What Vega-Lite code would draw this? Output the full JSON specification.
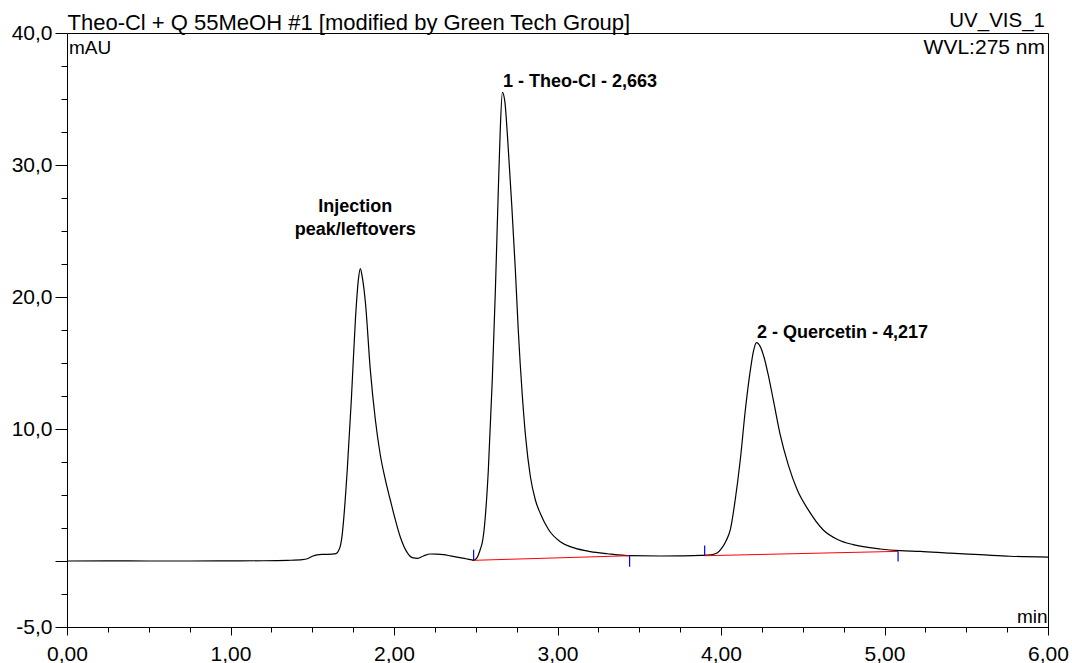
{
  "$schema": "https://vega.github.io/schema/vega-lite/v6.json",
  "width": 981,
  "height": 594,
  "autosize": {"type": "none"},
  "padding": {"left": 67, "top": 33, "right": 24, "bottom": 36},
  "background": "white",
  "config": {
    "view": {"stroke": "black", "strokeWidth": 1},
    "font": "Liberation Sans",
    "axis": {
      "labelFont": "Liberation Sans",
      "titleFont": "Liberation Sans",
      "labelColor": "black",
      "titleColor": "black",
      "tickColor": "black",
      "domainColor": "black",
      "domainWidth": 1,
      "tickWidth": 1,
      "grid": false,
      "titleFontWeight": "normal",
      "labelOverlap": false,
      "labelFlush": false,
      "labelBound": false
    }
  },
  "title": {
    "text": "UV_VIS_1",
    "anchor": "end",
    "frame": "group",
    "orient": "top",
    "offset": 4,
    "dx": -3,
    "dy": 24,
    "fontSize": 20.5,
    "fontWeight": "normal",
    "font": "Liberation Sans",
    "color": "black"
  },
  "datasets": {
    "curve": [
      {"t": 0.00, "v": 0.00}, {"t": 0.25, "v": 0.01}, {"t": 0.50, "v": 0.00}, {"t": 0.75, "v": 0.00},
      {"t": 1.00, "v": 0.01}, {"t": 1.20, "v": 0.02}, {"t": 1.35, "v": 0.05}, {"t": 1.44, "v": 0.10},
      {"t": 1.47, "v": 0.17}, {"t": 1.50, "v": 0.36}, {"t": 1.53, "v": 0.47}, {"t": 1.57, "v": 0.50},
      {"t": 1.62, "v": 0.52}, {"t": 1.645, "v": 0.56}, {"t": 1.66, "v": 0.75}, {"t": 1.673, "v": 1.2},
      {"t": 1.682, "v": 1.86}, {"t": 1.692, "v": 3.13}, {"t": 1.714, "v": 6.9}, {"t": 1.739, "v": 12.2},
      {"t": 1.764, "v": 18.3}, {"t": 1.782, "v": 21.3}, {"t": 1.794, "v": 22.15}, {"t": 1.806, "v": 21.5},
      {"t": 1.825, "v": 19.6}, {"t": 1.855, "v": 14.5}, {"t": 1.886, "v": 10.7}, {"t": 1.916, "v": 8.05},
      {"t": 1.947, "v": 6.16}, {"t": 1.977, "v": 4.64}, {"t": 2.008, "v": 3.13}, {"t": 2.038, "v": 1.84},
      {"t": 2.081, "v": 0.63}, {"t": 2.112, "v": 0.25}, {"t": 2.145, "v": 0.20}, {"t": 2.18, "v": 0.38},
      {"t": 2.222, "v": 0.53}, {"t": 2.26, "v": 0.52}, {"t": 2.303, "v": 0.48}, {"t": 2.345, "v": 0.39},
      {"t": 2.385, "v": 0.30}, {"t": 2.44, "v": 0.17}, {"t": 2.477, "v": 0.08}, {"t": 2.487, "v": 0.05},
      {"t": 2.507, "v": 0.23}, {"t": 2.527, "v": 0.85}, {"t": 2.543, "v": 1.6}, {"t": 2.551, "v": 2.37},
      {"t": 2.577, "v": 6.9}, {"t": 2.601, "v": 13.7}, {"t": 2.620, "v": 20.5}, {"t": 2.638, "v": 28.1},
      {"t": 2.650, "v": 32.7}, {"t": 2.663, "v": 35.5}, {"t": 2.678, "v": 34.8}, {"t": 2.695, "v": 32.0},
      {"t": 2.72, "v": 27.0}, {"t": 2.742, "v": 22.1}, {"t": 2.76, "v": 17.5}, {"t": 2.785, "v": 12.5},
      {"t": 2.805, "v": 9.4}, {"t": 2.834, "v": 6.4}, {"t": 2.865, "v": 4.6}, {"t": 2.895, "v": 3.6},
      {"t": 2.946, "v": 2.37}, {"t": 3.017, "v": 1.46}, {"t": 3.097, "v": 1.01}, {"t": 3.201, "v": 0.71},
      {"t": 3.305, "v": 0.55}, {"t": 3.446, "v": 0.40}, {"t": 3.63, "v": 0.38}, {"t": 3.75, "v": 0.39},
      {"t": 3.873, "v": 0.42}, {"t": 3.94, "v": 0.47}, {"t": 3.976, "v": 0.6}, {"t": 4.00, "v": 0.9},
      {"t": 4.03, "v": 1.5}, {"t": 4.057, "v": 2.37}, {"t": 4.087, "v": 4.64}, {"t": 4.118, "v": 7.67},
      {"t": 4.149, "v": 11.46}, {"t": 4.18, "v": 14.5}, {"t": 4.198, "v": 15.86}, {"t": 4.217, "v": 16.54},
      {"t": 4.24, "v": 16.24}, {"t": 4.264, "v": 15.4}, {"t": 4.289, "v": 14.1}, {"t": 4.32, "v": 12.2},
      {"t": 4.362, "v": 9.57}, {"t": 4.411, "v": 7.3}, {"t": 4.466, "v": 5.4}, {"t": 4.533, "v": 3.89},
      {"t": 4.624, "v": 2.37}, {"t": 4.716, "v": 1.61}, {"t": 4.808, "v": 1.24}, {"t": 4.974, "v": 0.91},
      {"t": 5.096, "v": 0.78}, {"t": 5.218, "v": 0.73}, {"t": 5.402, "v": 0.59}, {"t": 5.585, "v": 0.48},
      {"t": 5.768, "v": 0.36}, {"t": 6.0, "v": 0.29}
    ],
    "baselines": [
      {"peak": 1, "t1": 2.487, "v1": 0.05, "t2": 3.441, "v2": 0.40},
      {"peak": 2, "t1": 3.900, "v1": 0.40, "t2": 5.083, "v2": 0.73}
    ],
    "delimiters": [
      {"t": 2.487, "v0": 0.05, "v1": 0.86},
      {"t": 3.441, "v0": 0.40, "v1": -0.43},
      {"t": 3.900, "v0": 0.40, "v1": 1.18},
      {"t": 5.083, "v0": 0.73, "v1": -0.03}
    ],
    "peaks": [
      {"label": "1 - Theo-Cl - 2,663", "t": 2.663, "v": 35.5},
      {"label": "2 - Quercetin - 4,217", "t": 4.217, "v": 16.54}
    ],
    "notes": [
      {"label": ["Injection", "peak/leftovers"], "t": 1.794, "v": 22.15}
    ]
  },
  "layer": [
    {
      "data": {"name": "curve"},
      "mark": {"type": "line", "color": "black", "strokeWidth": 1.2, "interpolate": "monotone", "clip": true},
      "encoding": {
        "x": {
          "field": "t", "type": "quantitative",
          "scale": {"domain": [0, 6], "nice": false, "zero": false},
          "axis": {
            "orient": "bottom",
            "values": [0, 0.25, 0.5, 0.75, 1, 1.25, 1.5, 1.75, 2, 2.25, 2.5, 2.75, 3, 3.25, 3.5, 3.75, 4, 4.25, 4.5, 4.75, 5, 5.25, 5.5, 5.75, 6],
            "labelExpr": "datum.value % 1 === 0 ? replace(format(datum.value, '.2f'), '.', ',') : ''",
            "tickSize": {"condition": {"test": "datum.value % 1 === 0", "value": 8}, "value": 5},
            "labelPadding": 8,
            "labelFontSize": 21,
            "title": "min",
            "titleFontSize": 19,
            "titleX": 980,
            "titleY": -5,
            "titleAlign": "right",
            "titleAnchor": null,
            "titleBaseline": "alphabetic"
          }
        },
        "y": {
          "field": "v", "type": "quantitative",
          "scale": {"domain": [-5, 40], "nice": false, "zero": false},
          "axis": {
            "orient": "left",
            "values": [-5, -2.5, 0, 2.5, 5, 7.5, 10, 12.5, 15, 17.5, 20, 22.5, 25, 27.5, 30, 32.5, 35, 37.5, 40],
            "labelExpr": "datum.value === -5 || (datum.value % 10 === 0 && datum.value !== 0) ? replace((datum.value < 0 ? '-' : '') + format(abs(datum.value), '.1f'), '.', ',') : ''",
            "tickSize": {"condition": {"test": "datum.value % 10 === 0 || datum.value === -5", "value": 12}, "value": 6},
            "labelPadding": 3,
            "labelFontSize": 21,
            "title": "mAU",
            "titleFontSize": 19,
            "titleAngle": 0,
            "titleX": 1.5,
            "titleY": 20,
            "titleAlign": "left",
            "titleBaseline": "alphabetic"
          }
        }
      }
    },
    {
      "data": {"name": "baselines"},
      "mark": {"type": "rule", "color": "#ff0000", "strokeWidth": 1},
      "encoding": {
        "x": {
          "field": "t1", "type": "quantitative",
          "scale": {"domain": [0, 6], "nice": false, "zero": false},
          "axis": {
            "orient": "top",
            "domain": false, "ticks": false, "labels": false,
            "title": "Theo-Cl + Q 55MeOH #1 [modified by Green Tech Group]",
            "titleFontSize": 22,
            "titleX": 0,
            "titleY": -3.5,
            "titleAlign": "left",
            "titleBaseline": "alphabetic"
          }
        },
        "x2": {"field": "t2"},
        "y": {
          "field": "v1", "type": "quantitative",
          "scale": {"domain": [-5, 40], "nice": false, "zero": false},
          "axis": {
            "orient": "right",
            "domain": false, "ticks": false, "labels": false,
            "title": "WVL:275 nm",
            "titleFontSize": 21,
            "titleAngle": 0,
            "titleX": -3.5,
            "titleY": 20,
            "titleAlign": "right",
            "titleBaseline": "alphabetic"
          }
        },
        "y2": {"field": "v2"}
      }
    },
    {
      "data": {"name": "delimiters"},
      "mark": {"type": "rule", "color": "#0000ff", "strokeWidth": 1.2},
      "encoding": {
        "x": {"field": "t", "type": "quantitative", "scale": {"domain": [0, 6], "nice": false, "zero": false}, "axis": null},
        "y": {"field": "v0", "type": "quantitative", "scale": {"domain": [-5, 40], "nice": false, "zero": false}, "axis": null},
        "y2": {"field": "v1"}
      }
    },
    {
      "data": {"name": "peaks"},
      "mark": {"type": "text", "align": "left", "baseline": "alphabetic", "dx": 0.5, "dy": -5, "font": "Liberation Sans", "fontSize": 18, "fontWeight": "bold", "color": "black"},
      "encoding": {
        "x": {"field": "t", "type": "quantitative", "scale": {"domain": [0, 6], "nice": false, "zero": false}, "axis": null},
        "y": {"field": "v", "type": "quantitative", "scale": {"domain": [-5, 40], "nice": false, "zero": false}, "axis": null},
        "text": {"field": "label"}
      }
    },
    {
      "data": {"name": "notes"},
      "mark": {"type": "text", "align": "center", "baseline": "alphabetic", "dx": -5, "dy": -57, "lineHeight": 23, "font": "Liberation Sans", "fontSize": 18, "fontWeight": "bold", "color": "black"},
      "encoding": {
        "x": {"field": "t", "type": "quantitative", "scale": {"domain": [0, 6], "nice": false, "zero": false}, "axis": null},
        "y": {"field": "v", "type": "quantitative", "scale": {"domain": [-5, 40], "nice": false, "zero": false}, "axis": null},
        "text": {"field": "label"}
      }
    }
  ],
  "resolve": {"axis": {"x": "independent", "y": "independent"}}
}
